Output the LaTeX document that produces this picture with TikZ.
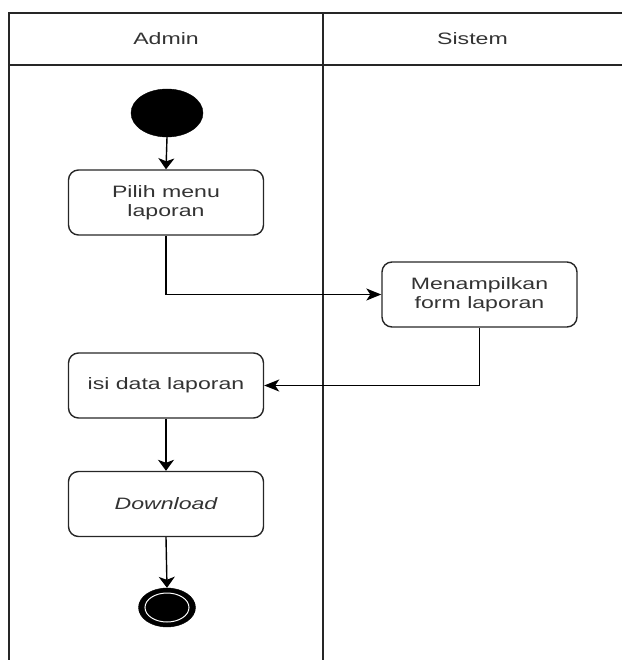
\documentclass[tikz,border=0pt]{standalone}
\usepackage{fontspec}
\setmainfont[FakeStretch=1.4]{Liberation Sans}
\usetikzlibrary{arrows.meta,shapes.geometric}
\tikzset{
  lane/.style={line width=1.5pt, draw=black!85},
  actbox/.style={draw=black!85, line width=1.4pt, rounded corners=10pt, minimum width=195pt, minimum height=65pt, align=center, inner sep=0pt, font=\fontsize{16.5}{19.5}\selectfont, text=black!80},
  hdr/.style={font=\fontsize{16.5}{19.5}\selectfont, text=black!80},
  flow/.style={line width=1.4pt, draw=black},
  varr/.style={flow, -{Stealth[length=11pt,width=16pt,inset=3pt]}},
  harr/.style={flow, -{Stealth[length=15pt,width=12pt,inset=4pt]}},
}
\begin{document}
\begin{tikzpicture}[x=1pt,y=-1pt]
\useasboundingbox (0,0) rectangle (622,660);
% swimlanes
\draw[lane] (622,13) -- (9,13) -- (9,660);
\draw[lane] (9,65) -- (622,65);
\draw[lane] (323,13) -- (323,660);
\node[hdr] (hAdmin) at (166,39) {Admin};
\node[hdr] (hSistem) at (472.5,39) {Sistem};
% nodes
\node[ellipse, fill=black, draw=black, minimum width=72pt, minimum height=48pt, inner sep=0pt] (start) at (167,113) {};
\node[actbox] (b1) at (166,202.5) {Pilih menu\\laporan};
\node[actbox] (b2) at (479.5,294.5) {Menampilkan\\form laporan};
\node[actbox] (b3) at (166,385.5) {isi data laporan};
\node[actbox] (b4) at (166,504) {\itshape Download};
\node[ellipse, fill=black, draw=black, minimum width=57pt, minimum height=39pt, inner sep=0pt] (end) at (167,607.5) {};
\node[ellipse, fill=black, draw=white, line width=1pt, minimum width=44pt, minimum height=29pt, inner sep=0pt] (endin) at (end.center) {};
% connectors
\draw[varr] (start.south) -- (b1.north);
\draw[harr] (b1.south) |- (b2.west);
\draw[harr] (b2.south) |- (b3.east);
\draw[varr] (b3.south) -- (b4.north);
\draw[varr] (b4.south) -- (end.north);
\end{tikzpicture}
\end{document}
